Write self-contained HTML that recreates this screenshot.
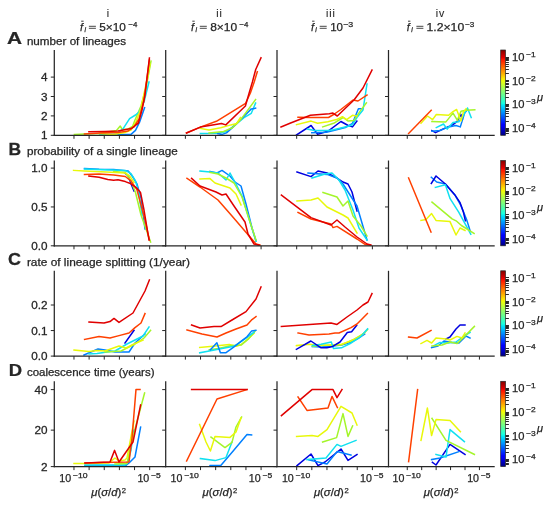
<!DOCTYPE html>
<html><head><meta charset="utf-8"><style>
html,body{margin:0;padding:0;background:#fff;}
svg{display:block;will-change:transform;}
text{font-family:"Liberation Sans", sans-serif;fill:#262626;stroke:#262626;stroke-width:0.25px;}
</style></head><body>
<svg width="550" height="509" viewBox="0 0 550 509">
<defs><linearGradient id="jet" x1="0" y1="1" x2="0" y2="0"><stop offset="0.000" stop-color="#000080"/><stop offset="0.110" stop-color="#0000ff"/><stop offset="0.125" stop-color="#0000ff"/><stop offset="0.340" stop-color="#00dbff"/><stop offset="0.350" stop-color="#00e5f7"/><stop offset="0.375" stop-color="#15ffe2"/><stop offset="0.640" stop-color="#efff08"/><stop offset="0.650" stop-color="#f7f600"/><stop offset="0.660" stop-color="#ffec00"/><stop offset="0.890" stop-color="#ff1300"/><stop offset="0.910" stop-color="#e80000"/><stop offset="1.000" stop-color="#800000"/></linearGradient></defs>
<rect width="550" height="509" fill="#fff"/>
<text x="108.25" y="16.9" font-size="10.5" text-anchor="middle" letter-spacing="0.9" style="stroke-width:0.1px">i</text>
<text x="219.45" y="16.9" font-size="10.5" text-anchor="middle" letter-spacing="0.9" style="stroke-width:0.1px">ii</text>
<text x="330.95" y="16.9" font-size="10.5" text-anchor="middle" letter-spacing="0.9" style="stroke-width:0.1px">iii</text>
<text x="440.45" y="16.9" font-size="10.5" text-anchor="middle" letter-spacing="0.9" style="stroke-width:0.1px">iv</text>
<text x="80.00" y="30.5" font-size="10.8" font-style="italic">f</text>
<line x1="81.20" y1="21.2" x2="83.60" y2="21.2" stroke="#262626" stroke-width="0.9"/>
<text x="84.40" y="32.3" font-size="6.6" font-style="italic">i</text>
<line x1="88.90" y1="26.3" x2="95.90" y2="26.3" stroke="#262626" stroke-width="0.85"/>
<line x1="88.90" y1="28.3" x2="95.90" y2="28.3" stroke="#262626" stroke-width="0.85"/>
<text x="99.20" y="30.7" font-size="10.8" textLength="26.60" lengthAdjust="spacingAndGlyphs">5×10</text>
<text x="128.30" y="26.9" font-size="7.4" textLength="9.00" lengthAdjust="spacingAndGlyphs">−4</text>
<text x="191.10" y="30.5" font-size="10.8" font-style="italic">f</text>
<line x1="192.30" y1="21.2" x2="194.70" y2="21.2" stroke="#262626" stroke-width="0.9"/>
<text x="195.50" y="32.3" font-size="6.6" font-style="italic">i</text>
<line x1="199.80" y1="26.3" x2="206.80" y2="26.3" stroke="#262626" stroke-width="0.85"/>
<line x1="199.80" y1="28.3" x2="206.80" y2="28.3" stroke="#262626" stroke-width="0.85"/>
<text x="210.20" y="30.7" font-size="10.8" textLength="27.00" lengthAdjust="spacingAndGlyphs">8×10</text>
<text x="239.30" y="26.9" font-size="7.4" textLength="9.00" lengthAdjust="spacingAndGlyphs">−4</text>
<text x="310.90" y="30.5" font-size="10.8" font-style="italic">f</text>
<line x1="312.10" y1="21.2" x2="314.50" y2="21.2" stroke="#262626" stroke-width="0.9"/>
<text x="315.30" y="32.3" font-size="6.6" font-style="italic">i</text>
<line x1="319.70" y1="26.3" x2="326.70" y2="26.3" stroke="#262626" stroke-width="0.85"/>
<line x1="319.70" y1="28.3" x2="326.70" y2="28.3" stroke="#262626" stroke-width="0.85"/>
<text x="330.20" y="30.7" font-size="10.8" textLength="12.80" lengthAdjust="spacingAndGlyphs">10</text>
<text x="343.20" y="26.9" font-size="7.4" textLength="10.10" lengthAdjust="spacingAndGlyphs">−3</text>
<text x="406.80" y="30.5" font-size="10.8" font-style="italic">f</text>
<line x1="408.00" y1="21.2" x2="410.40" y2="21.2" stroke="#262626" stroke-width="0.9"/>
<text x="411.20" y="32.3" font-size="6.6" font-style="italic">i</text>
<line x1="416.40" y1="26.3" x2="423.40" y2="26.3" stroke="#262626" stroke-width="0.85"/>
<line x1="416.40" y1="28.3" x2="423.40" y2="28.3" stroke="#262626" stroke-width="0.85"/>
<text x="426.50" y="30.7" font-size="10.8" textLength="37.70" lengthAdjust="spacingAndGlyphs">1.2×10</text>
<text x="465.00" y="26.9" font-size="7.4" textLength="9.30" lengthAdjust="spacingAndGlyphs">−3</text>
<text transform="translate(7.00 44.00) scale(1.24 1)" font-size="16.8" text-anchor="start" font-weight="bold">A</text>
<text x="26.9" y="45" font-size="10.3" text-anchor="start" textLength="99.1" lengthAdjust="spacingAndGlyphs" >number of lineages</text>
<text transform="translate(8.60 154.90) scale(1.04 1)" font-size="16.8" text-anchor="start" font-weight="bold">B</text>
<text x="26.9" y="155" font-size="10.3" text-anchor="start" textLength="150.9" lengthAdjust="spacingAndGlyphs" >probability of a single lineage</text>
<text transform="translate(7.90 264.80) scale(1.07 1)" font-size="16.8" text-anchor="start" font-weight="bold">C</text>
<text x="26.9" y="266" font-size="10.3" text-anchor="start" textLength="163.1" lengthAdjust="spacingAndGlyphs" >rate of lineage splitting (1/year)</text>
<text transform="translate(8.70 375.90) scale(1.1 1)" font-size="16.8" text-anchor="start" font-weight="bold">D</text>
<text x="26.9" y="376" font-size="10.3" text-anchor="start" textLength="127.6" lengthAdjust="spacingAndGlyphs" >coalescence time (years)</text>
<g fill="none" stroke-width="1.5" stroke-linejoin="round" stroke-linecap="square">
<polyline points="74.4,134.4 84.5,134.0 99.0,133.6 116.5,130.4 120.2,126.0 122.4,129.6 128.2,128.9 132.5,126.5 135.0,120.0 141.0,106.0 146.0,88.0 151.0,61.0" stroke="#a4f52a"/>
<polyline points="100.0,134.6 116.5,134.0 123.0,128.9 129.6,118.7 135.5,115.0 139.0,112.0 144.0,102.0 149.0,82.0" stroke="#10e0f0"/>
<polyline points="118.0,134.6 131.0,134.4 135.5,130.4 139.8,121.6 144.6,107.6" stroke="#0080ff"/>
<polyline points="99.0,133.6 113.0,134.4 125.0,132.6 131.0,130.0 136.0,122.0 141.0,108.0 147.0,80.0 150.0,64.0" stroke="#e8f80a"/>
<polyline points="84.5,134.0 100.0,133.0 118.0,132.6 128.0,131.0 134.0,127.0 139.0,119.0 144.0,100.0 149.4,60.0" stroke="#ff4000"/>
<polyline points="88.9,131.8 104.9,131.5 118.0,131.1 131.1,128.6 138.4,123.1 142.0,110.0 145.0,95.0 149.4,58.0" stroke="#e00000"/>
</g>
<line x1="54.3" y1="50.000000000000014" x2="54.3" y2="135.9" stroke="#262626" stroke-width="1.25"/>
<line x1="53.699999999999996" y1="135.3" x2="165.7" y2="135.3" stroke="#262626" stroke-width="1.25"/>
<line x1="73.98" y1="135.3" x2="73.98" y2="138.8" stroke="#262626" stroke-width="1"/>
<line x1="89.12" y1="135.3" x2="89.12" y2="138.8" stroke="#262626" stroke-width="1"/>
<line x1="104.26" y1="135.3" x2="104.26" y2="138.8" stroke="#262626" stroke-width="1"/>
<line x1="119.40" y1="135.3" x2="119.40" y2="138.8" stroke="#262626" stroke-width="1"/>
<line x1="134.54" y1="135.3" x2="134.54" y2="138.8" stroke="#262626" stroke-width="1"/>
<line x1="149.68" y1="135.3" x2="149.68" y2="138.8" stroke="#262626" stroke-width="1"/>
<line x1="50.8" y1="135.30" x2="54.3" y2="135.30" stroke="#262626" stroke-width="1"/>
<text transform="translate(47.60 139.30) scale(1.14 1)" font-size="10.3" text-anchor="end" >1</text>
<line x1="50.8" y1="115.90" x2="54.3" y2="115.90" stroke="#262626" stroke-width="1"/>
<text transform="translate(47.60 119.90) scale(1.14 1)" font-size="10.3" text-anchor="end" >2</text>
<line x1="50.8" y1="96.50" x2="54.3" y2="96.50" stroke="#262626" stroke-width="1"/>
<text transform="translate(47.60 100.50) scale(1.14 1)" font-size="10.3" text-anchor="end" >3</text>
<line x1="50.8" y1="77.10" x2="54.3" y2="77.10" stroke="#262626" stroke-width="1"/>
<text transform="translate(47.60 81.10) scale(1.14 1)" font-size="10.3" text-anchor="end" >4</text>
<g fill="none" stroke-width="1.5" stroke-linejoin="round" stroke-linecap="square">
<polyline points="200.4,133.6 217.8,133.3 226.5,131.5 235.3,124.9 244.0,117.6 251.3,113.3 255.6,103.1" stroke="#10e0f0"/>
<polyline points="217.8,133.6 222.2,134.4 226.5,132.9 233.8,126.4 244.0,116.2 251.3,108.9 255.6,108.2" stroke="#0080ff"/>
<polyline points="209.1,132.9 223.6,131.5 232.4,127.8 241.1,119.1 255.6,99.5" stroke="#a4f52a"/>
<polyline points="200.4,128.5 209.1,130.0 220.7,127.8 230.9,124.9 236.7,123.5 240.4,117.6" stroke="#e8f80a"/>
<polyline points="186.5,132.9 200.4,127.1 216.4,121.3 245.6,103.3 250.4,93.0 254.2,82.0 257.3,71.8" stroke="#ff4000"/>
<polyline points="186.5,132.9 200.4,127.1 221.5,123.5 225.8,124.9 245.4,106.0 249.0,93.5 252.4,82.0 255.7,69.5 261.0,57.8" stroke="#e00000"/>
</g>
<line x1="165.7" y1="50.000000000000014" x2="165.7" y2="135.9" stroke="#262626" stroke-width="1.25"/>
<line x1="165.1" y1="135.3" x2="277.1" y2="135.3" stroke="#262626" stroke-width="1.25"/>
<line x1="185.38" y1="135.3" x2="185.38" y2="138.8" stroke="#262626" stroke-width="1"/>
<line x1="200.52" y1="135.3" x2="200.52" y2="138.8" stroke="#262626" stroke-width="1"/>
<line x1="215.66" y1="135.3" x2="215.66" y2="138.8" stroke="#262626" stroke-width="1"/>
<line x1="230.80" y1="135.3" x2="230.80" y2="138.8" stroke="#262626" stroke-width="1"/>
<line x1="245.94" y1="135.3" x2="245.94" y2="138.8" stroke="#262626" stroke-width="1"/>
<line x1="261.08" y1="135.3" x2="261.08" y2="138.8" stroke="#262626" stroke-width="1"/>
<line x1="162.2" y1="135.30" x2="165.7" y2="135.30" stroke="#262626" stroke-width="1"/>
<line x1="162.2" y1="115.90" x2="165.7" y2="115.90" stroke="#262626" stroke-width="1"/>
<line x1="162.2" y1="96.50" x2="165.7" y2="96.50" stroke="#262626" stroke-width="1"/>
<line x1="162.2" y1="77.10" x2="165.7" y2="77.10" stroke="#262626" stroke-width="1"/>
<g fill="none" stroke-width="1.5" stroke-linejoin="round" stroke-linecap="square">
<polyline points="296.5,134.9 311.1,125.5 317.6,134.2 327.8,131.3 340.9,121.5 348.2,125.5 352.5,126.9 356.9,121.1" stroke="#0000e0"/>
<polyline points="311.8,132.7 326.4,132.3 333.6,130.5 345.3,127.6 352.5,123.3 358.4,108.7 362.7,108.7" stroke="#0080ff"/>
<polyline points="307.5,129.1 314.7,130.5 327.8,130.5 333.6,129.8 348.2,126.2 352.5,124.7 356.9,117.5 363.0,110.0 367.0,84.0" stroke="#10e0f0"/>
<polyline points="322.7,126.9 333.6,123.3 343.1,117.5 348.2,121.1 354.0,120.4 359.8,111.6 366.4,102.9" stroke="#a4f52a"/>
<polyline points="296.5,124.7 311.1,121.1 317.6,123.3 327.8,121.8 336.5,119.6 342.4,116.7 346.7,119.6 352.5,115.3 356.9,116.0" stroke="#e8f80a"/>
<polyline points="298.0,117.2 310.4,117.5 328.5,117.5 333.6,114.5 340.9,109.5 353.0,100.0 358.0,101.0 367.0,95.0" stroke="#ff4000"/>
<polyline points="281.0,127.0 290.0,123.3 310.4,115.3 329.3,113.8 332.9,113.1 337.3,116.0 354.0,100.0 363.0,88.0 372.0,70.0" stroke="#e00000"/>
</g>
<line x1="277.0" y1="50.000000000000014" x2="277.0" y2="135.9" stroke="#262626" stroke-width="1.25"/>
<line x1="276.4" y1="135.3" x2="388.4" y2="135.3" stroke="#262626" stroke-width="1.25"/>
<line x1="296.68" y1="135.3" x2="296.68" y2="138.8" stroke="#262626" stroke-width="1"/>
<line x1="311.82" y1="135.3" x2="311.82" y2="138.8" stroke="#262626" stroke-width="1"/>
<line x1="326.96" y1="135.3" x2="326.96" y2="138.8" stroke="#262626" stroke-width="1"/>
<line x1="342.10" y1="135.3" x2="342.10" y2="138.8" stroke="#262626" stroke-width="1"/>
<line x1="357.24" y1="135.3" x2="357.24" y2="138.8" stroke="#262626" stroke-width="1"/>
<line x1="372.38" y1="135.3" x2="372.38" y2="138.8" stroke="#262626" stroke-width="1"/>
<line x1="273.5" y1="135.30" x2="277.0" y2="135.30" stroke="#262626" stroke-width="1"/>
<line x1="273.5" y1="115.90" x2="277.0" y2="115.90" stroke="#262626" stroke-width="1"/>
<line x1="273.5" y1="96.50" x2="277.0" y2="96.50" stroke="#262626" stroke-width="1"/>
<line x1="273.5" y1="77.10" x2="277.0" y2="77.10" stroke="#262626" stroke-width="1"/>
<g fill="none" stroke-width="1.5" stroke-linejoin="round" stroke-linecap="square">
<polyline points="431.9,130.6 435.5,132.7 442.8,129.1 453.0,124.7 457.4,121.1 461.0,114.5 462.5,118.9" stroke="#0000e0"/>
<polyline points="431.9,131.3 439.9,130.5 448.6,126.9 455.9,125.5 460.3,126.9 464.6,113.1 467.5,109.5" stroke="#0080ff"/>
<polyline points="436.3,127.6 443.5,124.0 447.2,129.1 453.0,122.5 458.8,121.8 463.2,116.0 467.5,108.0 471.2,117.5" stroke="#10e0f0"/>
<polyline points="431.9,121.5 445.7,122.1 453.0,113.1 457.4,120.4 461.0,111.3 466.1,110.2 474.8,109.9" stroke="#a4f52a"/>
<polyline points="421.0,123.3 427.5,116.0 432.6,119.6 436.3,114.5 448.6,115.3 453.0,111.6 456.6,109.5 461.0,121.1 463.2,112.4 466.1,108.7" stroke="#e8f80a"/>
<polyline points="408.6,133.5 431.2,110.2" stroke="#ff4000"/>
</g>
<line x1="388.5" y1="50.000000000000014" x2="388.5" y2="135.9" stroke="#262626" stroke-width="1.25"/>
<line x1="387.9" y1="135.3" x2="494.7" y2="135.3" stroke="#262626" stroke-width="1.25"/>
<line x1="407.26" y1="135.3" x2="407.26" y2="138.8" stroke="#262626" stroke-width="1"/>
<line x1="421.70" y1="135.3" x2="421.70" y2="138.8" stroke="#262626" stroke-width="1"/>
<line x1="436.13" y1="135.3" x2="436.13" y2="138.8" stroke="#262626" stroke-width="1"/>
<line x1="450.56" y1="135.3" x2="450.56" y2="138.8" stroke="#262626" stroke-width="1"/>
<line x1="465.00" y1="135.3" x2="465.00" y2="138.8" stroke="#262626" stroke-width="1"/>
<line x1="479.43" y1="135.3" x2="479.43" y2="138.8" stroke="#262626" stroke-width="1"/>
<line x1="385.0" y1="135.30" x2="388.5" y2="135.30" stroke="#262626" stroke-width="1"/>
<line x1="385.0" y1="115.90" x2="388.5" y2="115.90" stroke="#262626" stroke-width="1"/>
<line x1="385.0" y1="96.50" x2="388.5" y2="96.50" stroke="#262626" stroke-width="1"/>
<line x1="385.0" y1="77.10" x2="388.5" y2="77.10" stroke="#262626" stroke-width="1"/>
<rect x="500.7" y="50.000000000000014" width="4.8" height="85.3" fill="url(#jet)" stroke="#262626" stroke-width="0.7"/>
<line x1="505.5" y1="133.50" x2="508.9" y2="133.50" stroke="#262626" stroke-width="1.0"/>
<line x1="505.5" y1="131.50" x2="508.9" y2="131.50" stroke="#262626" stroke-width="1.0"/>
<line x1="505.5" y1="130.50" x2="508.9" y2="130.50" stroke="#262626" stroke-width="1.0"/>
<line x1="505.5" y1="129.50" x2="508.9" y2="129.50" stroke="#262626" stroke-width="1.0"/>
<line x1="505.5" y1="128.50" x2="509.0" y2="128.50" stroke="#262626" stroke-width="1.0"/>
<text x="512.10" y="132.07" font-size="10.5" textLength="12.43" lengthAdjust="spacingAndGlyphs">10</text>
<text x="526.10" y="128.17" font-size="7.3" textLength="9.60" lengthAdjust="spacingAndGlyphs">−4</text>
<line x1="505.5" y1="121.50" x2="508.9" y2="121.50" stroke="#262626" stroke-width="1.0"/>
<line x1="505.5" y1="116.50" x2="508.9" y2="116.50" stroke="#262626" stroke-width="1.0"/>
<line x1="505.5" y1="113.50" x2="508.9" y2="113.50" stroke="#262626" stroke-width="1.0"/>
<line x1="505.5" y1="111.50" x2="508.9" y2="111.50" stroke="#262626" stroke-width="1.0"/>
<line x1="505.5" y1="109.50" x2="508.9" y2="109.50" stroke="#262626" stroke-width="1.0"/>
<line x1="505.5" y1="108.50" x2="508.9" y2="108.50" stroke="#262626" stroke-width="1.0"/>
<line x1="505.5" y1="106.50" x2="508.9" y2="106.50" stroke="#262626" stroke-width="1.0"/>
<line x1="505.5" y1="105.50" x2="508.9" y2="105.50" stroke="#262626" stroke-width="1.0"/>
<line x1="505.5" y1="104.50" x2="509.0" y2="104.50" stroke="#262626" stroke-width="1.0"/>
<text x="512.10" y="108.39" font-size="10.5" textLength="12.43" lengthAdjust="spacingAndGlyphs">10</text>
<text x="526.10" y="104.49" font-size="7.3" textLength="9.60" lengthAdjust="spacingAndGlyphs">−3</text>
<line x1="505.5" y1="97.50" x2="508.9" y2="97.50" stroke="#262626" stroke-width="1.0"/>
<line x1="505.5" y1="93.50" x2="508.9" y2="93.50" stroke="#262626" stroke-width="1.0"/>
<line x1="505.5" y1="90.50" x2="508.9" y2="90.50" stroke="#262626" stroke-width="1.0"/>
<line x1="505.5" y1="87.50" x2="508.9" y2="87.50" stroke="#262626" stroke-width="1.0"/>
<line x1="505.5" y1="86.50" x2="508.9" y2="86.50" stroke="#262626" stroke-width="1.0"/>
<line x1="505.5" y1="84.50" x2="508.9" y2="84.50" stroke="#262626" stroke-width="1.0"/>
<line x1="505.5" y1="83.50" x2="508.9" y2="83.50" stroke="#262626" stroke-width="1.0"/>
<line x1="505.5" y1="81.50" x2="508.9" y2="81.50" stroke="#262626" stroke-width="1.0"/>
<line x1="505.5" y1="80.50" x2="509.0" y2="80.50" stroke="#262626" stroke-width="1.0"/>
<text x="512.10" y="84.71" font-size="10.5" textLength="12.43" lengthAdjust="spacingAndGlyphs">10</text>
<text x="526.10" y="80.81" font-size="7.3" textLength="9.60" lengthAdjust="spacingAndGlyphs">−2</text>
<line x1="505.5" y1="73.50" x2="508.9" y2="73.50" stroke="#262626" stroke-width="1.0"/>
<line x1="505.5" y1="69.50" x2="508.9" y2="69.50" stroke="#262626" stroke-width="1.0"/>
<line x1="505.5" y1="66.50" x2="508.9" y2="66.50" stroke="#262626" stroke-width="1.0"/>
<line x1="505.5" y1="64.50" x2="508.9" y2="64.50" stroke="#262626" stroke-width="1.0"/>
<line x1="505.5" y1="62.50" x2="508.9" y2="62.50" stroke="#262626" stroke-width="1.0"/>
<line x1="505.5" y1="60.50" x2="508.9" y2="60.50" stroke="#262626" stroke-width="1.0"/>
<line x1="505.5" y1="59.50" x2="508.9" y2="59.50" stroke="#262626" stroke-width="1.0"/>
<line x1="505.5" y1="58.50" x2="508.9" y2="58.50" stroke="#262626" stroke-width="1.0"/>
<line x1="505.5" y1="57.50" x2="509.0" y2="57.50" stroke="#262626" stroke-width="1.0"/>
<text x="512.10" y="61.03" font-size="10.5" textLength="12.43" lengthAdjust="spacingAndGlyphs">10</text>
<text x="526.10" y="57.13" font-size="7.3" textLength="9.50" lengthAdjust="spacingAndGlyphs">−1</text>
<text x="537" y="100.80" font-size="11" font-style="italic">μ</text>
<g fill="none" stroke-width="1.5" stroke-linejoin="round" stroke-linecap="square">
<polyline points="125.3,173.3 128.2,175.8 131.0,183.8 134.0,191.0" stroke="#0000e0"/>
<polyline points="84.5,168.5 99.1,169.3 113.6,169.6 128.2,171.0 132.5,176.5 136.9,183.8 141.0,198.0 145.0,229.0" stroke="#0080ff"/>
<polyline points="84.5,169.0 125.3,170.4 131.0,173.6 135.5,180.9 138.4,191.0 142.0,215.0" stroke="#10e0f0"/>
<polyline points="113.6,171.5 125.3,172.5 131.0,180.9 135.5,192.5 141.0,215.0 150.6,242.0" stroke="#a4f52a"/>
<polyline points="73.6,170.4 84.5,171.0 106.4,171.9 125.3,172.9 129.6,175.8 134.0,182.4" stroke="#e8f80a"/>
<polyline points="84.5,174.4 99.1,174.0 113.6,175.1 125.3,176.5 131.0,180.9 136.9,189.6 145.0,220.0 149.4,240.0" stroke="#ff4000"/>
<polyline points="88.9,176.1 99.1,177.3 107.8,179.5 113.6,180.2 118.0,179.7 125.3,181.6 131.0,183.8 136.9,188.2 140.5,192.5 144.0,210.0 149.0,240.0" stroke="#e00000"/>
</g>
<line x1="54.3" y1="160.5" x2="54.3" y2="246.4" stroke="#262626" stroke-width="1.25"/>
<line x1="53.699999999999996" y1="245.8" x2="165.7" y2="245.8" stroke="#262626" stroke-width="1.25"/>
<line x1="73.98" y1="245.8" x2="73.98" y2="249.3" stroke="#262626" stroke-width="1"/>
<line x1="89.12" y1="245.8" x2="89.12" y2="249.3" stroke="#262626" stroke-width="1"/>
<line x1="104.26" y1="245.8" x2="104.26" y2="249.3" stroke="#262626" stroke-width="1"/>
<line x1="119.40" y1="245.8" x2="119.40" y2="249.3" stroke="#262626" stroke-width="1"/>
<line x1="134.54" y1="245.8" x2="134.54" y2="249.3" stroke="#262626" stroke-width="1"/>
<line x1="149.68" y1="245.8" x2="149.68" y2="249.3" stroke="#262626" stroke-width="1"/>
<line x1="50.8" y1="245.80" x2="54.3" y2="245.80" stroke="#262626" stroke-width="1"/>
<text transform="translate(47.60 249.80) scale(1.14 1)" font-size="10.3" text-anchor="end" >0.0</text>
<line x1="50.8" y1="206.95" x2="54.3" y2="206.95" stroke="#262626" stroke-width="1"/>
<text transform="translate(47.60 210.95) scale(1.14 1)" font-size="10.3" text-anchor="end" >0.5</text>
<line x1="50.8" y1="168.10" x2="54.3" y2="168.10" stroke="#262626" stroke-width="1"/>
<text transform="translate(47.60 172.10) scale(1.14 1)" font-size="10.3" text-anchor="end" >1.0</text>
<g fill="none" stroke-width="1.5" stroke-linejoin="round" stroke-linecap="square">
<polyline points="210.0,171.4 217.0,173.0 222.0,170.4 230.0,176.0 235.0,182.0 241.0,186.0 246.0,204.0 252.0,228.0 256.0,241.0" stroke="#0080ff"/>
<polyline points="200.0,171.0 210.0,172.0 218.0,173.0 226.0,180.0 230.0,173.0 236.0,184.0 242.0,196.0 250.0,222.0 256.0,241.0" stroke="#10e0f0"/>
<polyline points="210.0,172.4 218.0,174.0 226.0,178.0 234.0,183.0 242.0,197.0 250.0,222.0 256.0,240.0" stroke="#a4f52a"/>
<polyline points="200.0,179.0 210.0,178.6 215.0,183.0 230.0,188.0 236.0,194.0 241.0,205.0" stroke="#e8f80a"/>
<polyline points="187.0,178.4 200.0,187.0 218.0,200.0 232.0,216.0 250.0,237.0 256.0,244.0 260.0,245.0" stroke="#ff4000"/>
<polyline points="191.6,178.4 200.0,186.0 216.0,192.0 222.0,195.0 226.0,194.0 234.0,206.0 245.0,222.0 248.0,234.0 254.0,244.0 259.0,245.0" stroke="#e00000"/>
</g>
<line x1="165.7" y1="160.5" x2="165.7" y2="246.4" stroke="#262626" stroke-width="1.25"/>
<line x1="165.1" y1="245.8" x2="277.1" y2="245.8" stroke="#262626" stroke-width="1.25"/>
<line x1="185.38" y1="245.8" x2="185.38" y2="249.3" stroke="#262626" stroke-width="1"/>
<line x1="200.52" y1="245.8" x2="200.52" y2="249.3" stroke="#262626" stroke-width="1"/>
<line x1="215.66" y1="245.8" x2="215.66" y2="249.3" stroke="#262626" stroke-width="1"/>
<line x1="230.80" y1="245.8" x2="230.80" y2="249.3" stroke="#262626" stroke-width="1"/>
<line x1="245.94" y1="245.8" x2="245.94" y2="249.3" stroke="#262626" stroke-width="1"/>
<line x1="261.08" y1="245.8" x2="261.08" y2="249.3" stroke="#262626" stroke-width="1"/>
<line x1="162.2" y1="245.80" x2="165.7" y2="245.80" stroke="#262626" stroke-width="1"/>
<line x1="162.2" y1="206.95" x2="165.7" y2="206.95" stroke="#262626" stroke-width="1"/>
<line x1="162.2" y1="168.10" x2="165.7" y2="168.10" stroke="#262626" stroke-width="1"/>
<g fill="none" stroke-width="1.5" stroke-linejoin="round" stroke-linecap="square">
<polyline points="297.0,172.0 311.0,176.6 318.0,171.0 327.0,173.0 337.0,178.0 343.0,182.0 348.0,184.0 352.0,192.0 357.0,211.0" stroke="#0000e0"/>
<polyline points="308.0,173.0 327.0,174.4 337.0,178.0 343.0,184.0 357.0,206.0 367.0,240.0" stroke="#0080ff"/>
<polyline points="312.0,178.0 325.0,174.0 332.0,173.0 339.0,180.0 345.0,190.0 353.0,210.0 359.0,228.0 367.0,240.0" stroke="#10e0f0"/>
<polyline points="323.0,192.4 337.0,197.0 343.0,206.0 348.0,201.0 353.0,216.0 361.0,226.0 367.0,236.0" stroke="#a4f52a"/>
<polyline points="297.0,201.0 311.0,200.0 318.0,198.0 327.0,207.0 343.0,215.0 348.0,218.0 357.0,233.0" stroke="#e8f80a"/>
<polyline points="298.0,212.4 311.0,219.0 331.0,224.0 333.0,227.6 337.0,226.4 357.0,239.0 365.0,244.4 370.0,245.0" stroke="#ff4000"/>
<polyline points="281.4,195.0 311.0,217.6 331.0,225.0 337.0,220.0 345.0,227.0 357.0,237.0 367.0,244.0 371.0,245.0" stroke="#e00000"/>
</g>
<line x1="277.0" y1="160.5" x2="277.0" y2="246.4" stroke="#262626" stroke-width="1.25"/>
<line x1="276.4" y1="245.8" x2="388.4" y2="245.8" stroke="#262626" stroke-width="1.25"/>
<line x1="296.68" y1="245.8" x2="296.68" y2="249.3" stroke="#262626" stroke-width="1"/>
<line x1="311.82" y1="245.8" x2="311.82" y2="249.3" stroke="#262626" stroke-width="1"/>
<line x1="326.96" y1="245.8" x2="326.96" y2="249.3" stroke="#262626" stroke-width="1"/>
<line x1="342.10" y1="245.8" x2="342.10" y2="249.3" stroke="#262626" stroke-width="1"/>
<line x1="357.24" y1="245.8" x2="357.24" y2="249.3" stroke="#262626" stroke-width="1"/>
<line x1="372.38" y1="245.8" x2="372.38" y2="249.3" stroke="#262626" stroke-width="1"/>
<line x1="273.5" y1="245.80" x2="277.0" y2="245.80" stroke="#262626" stroke-width="1"/>
<line x1="273.5" y1="206.95" x2="277.0" y2="206.95" stroke="#262626" stroke-width="1"/>
<line x1="273.5" y1="168.10" x2="277.0" y2="168.10" stroke="#262626" stroke-width="1"/>
<g fill="none" stroke-width="1.5" stroke-linejoin="round" stroke-linecap="square">
<polyline points="431.3,177.3 436.7,182.0 445.4,184.0 454.7,194.7 460.8,205.4 466.8,220.1 470.1,230.8" stroke="#0080ff"/>
<polyline points="431.3,183.4 436.0,176.0 445.4,184.0 454.7,194.7 460.1,202.7 463.4,212.1 465.4,220.8" stroke="#0000e0"/>
<polyline points="435.4,187.4 445.4,184.7 450.1,198.7 458.7,212.1 470.8,234.2" stroke="#10e0f0"/>
<polyline points="432.0,202.1 452.1,218.8 456.1,220.8 461.4,225.5 474.1,233.5" stroke="#a4f52a"/>
<polyline points="421.0,220.4 426.0,219.6 431.6,213.6 436.0,220.4 450.0,221.6 456.0,235.0 460.0,228.0 465.0,230.4" stroke="#e8f80a"/>
<polyline points="408.6,178.0 431.0,232.0" stroke="#ff4000"/>
</g>
<line x1="388.5" y1="160.5" x2="388.5" y2="246.4" stroke="#262626" stroke-width="1.25"/>
<line x1="387.9" y1="245.8" x2="494.7" y2="245.8" stroke="#262626" stroke-width="1.25"/>
<line x1="407.26" y1="245.8" x2="407.26" y2="249.3" stroke="#262626" stroke-width="1"/>
<line x1="421.70" y1="245.8" x2="421.70" y2="249.3" stroke="#262626" stroke-width="1"/>
<line x1="436.13" y1="245.8" x2="436.13" y2="249.3" stroke="#262626" stroke-width="1"/>
<line x1="450.56" y1="245.8" x2="450.56" y2="249.3" stroke="#262626" stroke-width="1"/>
<line x1="465.00" y1="245.8" x2="465.00" y2="249.3" stroke="#262626" stroke-width="1"/>
<line x1="479.43" y1="245.8" x2="479.43" y2="249.3" stroke="#262626" stroke-width="1"/>
<line x1="385.0" y1="245.80" x2="388.5" y2="245.80" stroke="#262626" stroke-width="1"/>
<line x1="385.0" y1="206.95" x2="388.5" y2="206.95" stroke="#262626" stroke-width="1"/>
<line x1="385.0" y1="168.10" x2="388.5" y2="168.10" stroke="#262626" stroke-width="1"/>
<rect x="500.7" y="160.5" width="4.8" height="85.3" fill="url(#jet)" stroke="#262626" stroke-width="0.7"/>
<line x1="505.5" y1="243.50" x2="508.9" y2="243.50" stroke="#262626" stroke-width="1.0"/>
<line x1="505.5" y1="242.50" x2="508.9" y2="242.50" stroke="#262626" stroke-width="1.0"/>
<line x1="505.5" y1="240.50" x2="508.9" y2="240.50" stroke="#262626" stroke-width="1.0"/>
<line x1="505.5" y1="239.50" x2="508.9" y2="239.50" stroke="#262626" stroke-width="1.0"/>
<line x1="505.5" y1="238.50" x2="509.0" y2="238.50" stroke="#262626" stroke-width="1.0"/>
<text x="512.10" y="242.57" font-size="10.5" textLength="12.43" lengthAdjust="spacingAndGlyphs">10</text>
<text x="526.10" y="238.67" font-size="7.3" textLength="9.60" lengthAdjust="spacingAndGlyphs">−4</text>
<line x1="505.5" y1="231.50" x2="508.9" y2="231.50" stroke="#262626" stroke-width="1.0"/>
<line x1="505.5" y1="227.50" x2="508.9" y2="227.50" stroke="#262626" stroke-width="1.0"/>
<line x1="505.5" y1="224.50" x2="508.9" y2="224.50" stroke="#262626" stroke-width="1.0"/>
<line x1="505.5" y1="222.50" x2="508.9" y2="222.50" stroke="#262626" stroke-width="1.0"/>
<line x1="505.5" y1="220.50" x2="508.9" y2="220.50" stroke="#262626" stroke-width="1.0"/>
<line x1="505.5" y1="218.50" x2="508.9" y2="218.50" stroke="#262626" stroke-width="1.0"/>
<line x1="505.5" y1="217.50" x2="508.9" y2="217.50" stroke="#262626" stroke-width="1.0"/>
<line x1="505.5" y1="216.50" x2="508.9" y2="216.50" stroke="#262626" stroke-width="1.0"/>
<line x1="505.5" y1="214.50" x2="509.0" y2="214.50" stroke="#262626" stroke-width="1.0"/>
<text x="512.10" y="218.89" font-size="10.5" textLength="12.43" lengthAdjust="spacingAndGlyphs">10</text>
<text x="526.10" y="214.99" font-size="7.3" textLength="9.60" lengthAdjust="spacingAndGlyphs">−3</text>
<line x1="505.5" y1="207.50" x2="508.9" y2="207.50" stroke="#262626" stroke-width="1.0"/>
<line x1="505.5" y1="203.50" x2="508.9" y2="203.50" stroke="#262626" stroke-width="1.0"/>
<line x1="505.5" y1="200.50" x2="508.9" y2="200.50" stroke="#262626" stroke-width="1.0"/>
<line x1="505.5" y1="198.50" x2="508.9" y2="198.50" stroke="#262626" stroke-width="1.0"/>
<line x1="505.5" y1="196.50" x2="508.9" y2="196.50" stroke="#262626" stroke-width="1.0"/>
<line x1="505.5" y1="194.50" x2="508.9" y2="194.50" stroke="#262626" stroke-width="1.0"/>
<line x1="505.5" y1="193.50" x2="508.9" y2="193.50" stroke="#262626" stroke-width="1.0"/>
<line x1="505.5" y1="192.50" x2="508.9" y2="192.50" stroke="#262626" stroke-width="1.0"/>
<line x1="505.5" y1="191.50" x2="509.0" y2="191.50" stroke="#262626" stroke-width="1.0"/>
<text x="512.10" y="195.21" font-size="10.5" textLength="12.43" lengthAdjust="spacingAndGlyphs">10</text>
<text x="526.10" y="191.31" font-size="7.3" textLength="9.60" lengthAdjust="spacingAndGlyphs">−2</text>
<line x1="505.5" y1="184.50" x2="508.9" y2="184.50" stroke="#262626" stroke-width="1.0"/>
<line x1="505.5" y1="180.50" x2="508.9" y2="180.50" stroke="#262626" stroke-width="1.0"/>
<line x1="505.5" y1="177.50" x2="508.9" y2="177.50" stroke="#262626" stroke-width="1.0"/>
<line x1="505.5" y1="174.50" x2="508.9" y2="174.50" stroke="#262626" stroke-width="1.0"/>
<line x1="505.5" y1="172.50" x2="508.9" y2="172.50" stroke="#262626" stroke-width="1.0"/>
<line x1="505.5" y1="171.50" x2="508.9" y2="171.50" stroke="#262626" stroke-width="1.0"/>
<line x1="505.5" y1="169.50" x2="508.9" y2="169.50" stroke="#262626" stroke-width="1.0"/>
<line x1="505.5" y1="168.50" x2="508.9" y2="168.50" stroke="#262626" stroke-width="1.0"/>
<line x1="505.5" y1="167.50" x2="509.0" y2="167.50" stroke="#262626" stroke-width="1.0"/>
<text x="512.10" y="171.53" font-size="10.5" textLength="12.43" lengthAdjust="spacingAndGlyphs">10</text>
<text x="526.10" y="167.63" font-size="7.3" textLength="9.50" lengthAdjust="spacingAndGlyphs">−1</text>
<text x="537" y="211.30" font-size="11" font-style="italic">μ</text>
<g fill="none" stroke-width="1.5" stroke-linejoin="round" stroke-linecap="square">
<polyline points="125.0,343.0 134.0,330.4" stroke="#0000e0"/>
<polyline points="84.0,355.0 98.0,349.0 105.0,350.0 115.0,352.0 129.0,352.0 135.0,343.0 145.0,334.0" stroke="#0080ff"/>
<polyline points="89.0,354.0 97.0,353.6 107.0,352.0 115.0,351.0 127.0,344.0 135.0,340.0 143.0,336.0 149.0,327.0" stroke="#10e0f0"/>
<polyline points="105.0,352.0 121.0,351.0 127.0,348.0 135.0,344.0 144.0,338.0 150.6,330.4" stroke="#a4f52a"/>
<polyline points="74.0,350.0 89.0,351.6 97.0,350.4 105.0,351.0 119.0,346.0 126.0,348.0 134.0,344.0 143.0,340.0" stroke="#e8f80a"/>
<polyline points="84.6,339.4 99.0,336.4 110.0,338.0 119.0,335.6 129.0,333.0 135.0,327.6 141.0,323.0 145.0,313.6" stroke="#ff4000"/>
<polyline points="89.0,322.0 104.0,323.0 110.0,321.6 114.0,318.4 119.0,322.4 133.0,313.0 139.0,302.0 145.0,291.0 149.4,280.0" stroke="#e00000"/>
</g>
<line x1="54.3" y1="270.8" x2="54.3" y2="356.70000000000005" stroke="#262626" stroke-width="1.25"/>
<line x1="53.699999999999996" y1="356.1" x2="165.7" y2="356.1" stroke="#262626" stroke-width="1.25"/>
<line x1="73.98" y1="356.1" x2="73.98" y2="359.6" stroke="#262626" stroke-width="1"/>
<line x1="89.12" y1="356.1" x2="89.12" y2="359.6" stroke="#262626" stroke-width="1"/>
<line x1="104.26" y1="356.1" x2="104.26" y2="359.6" stroke="#262626" stroke-width="1"/>
<line x1="119.40" y1="356.1" x2="119.40" y2="359.6" stroke="#262626" stroke-width="1"/>
<line x1="134.54" y1="356.1" x2="134.54" y2="359.6" stroke="#262626" stroke-width="1"/>
<line x1="149.68" y1="356.1" x2="149.68" y2="359.6" stroke="#262626" stroke-width="1"/>
<line x1="50.8" y1="356.10" x2="54.3" y2="356.10" stroke="#262626" stroke-width="1"/>
<text transform="translate(47.60 360.10) scale(1.14 1)" font-size="10.3" text-anchor="end" >0.0</text>
<line x1="50.8" y1="330.55" x2="54.3" y2="330.55" stroke="#262626" stroke-width="1"/>
<text transform="translate(47.60 334.55) scale(1.14 1)" font-size="10.3" text-anchor="end" >0.1</text>
<line x1="50.8" y1="305.00" x2="54.3" y2="305.00" stroke="#262626" stroke-width="1"/>
<text transform="translate(47.60 309.00) scale(1.14 1)" font-size="10.3" text-anchor="end" >0.2</text>
<g fill="none" stroke-width="1.5" stroke-linejoin="round" stroke-linecap="square">
<polyline points="199.7,347.5 212.7,346.3 229.3,344.5 236.4,346.3 241.1,344.5 247.0,339.8 254.1,333.3" stroke="#e8f80a"/>
<polyline points="209.2,349.8 218.6,348.6 230.5,345.7 241.1,345.1 248.2,339.2 255.3,330.9" stroke="#a4f52a"/>
<polyline points="199.7,352.8 209.2,351.0 224.6,348.0 234.0,346.3 244.6,339.2 254.1,332.1" stroke="#10e0f0"/>
<polyline points="210.4,349.8 216.9,342.7 220.4,352.8 225.7,352.8 234.0,346.9 242.3,340.4 247.0,336.8 251.7,330.9 255.9,330.3" stroke="#0080ff"/>
<polyline points="187.0,330.0 202.0,334.0 217.0,337.0 226.0,333.0 236.0,329.0 247.0,325.0 252.0,319.6 256.0,316.6" stroke="#ff4000"/>
<polyline points="191.6,325.0 200.0,328.0 214.0,326.4 221.0,326.6 232.0,320.0 246.0,311.6 256.0,299.0 261.0,287.0" stroke="#e00000"/>
</g>
<line x1="165.7" y1="270.8" x2="165.7" y2="356.70000000000005" stroke="#262626" stroke-width="1.25"/>
<line x1="165.1" y1="356.1" x2="277.1" y2="356.1" stroke="#262626" stroke-width="1.25"/>
<line x1="185.38" y1="356.1" x2="185.38" y2="359.6" stroke="#262626" stroke-width="1"/>
<line x1="200.52" y1="356.1" x2="200.52" y2="359.6" stroke="#262626" stroke-width="1"/>
<line x1="215.66" y1="356.1" x2="215.66" y2="359.6" stroke="#262626" stroke-width="1"/>
<line x1="230.80" y1="356.1" x2="230.80" y2="359.6" stroke="#262626" stroke-width="1"/>
<line x1="245.94" y1="356.1" x2="245.94" y2="359.6" stroke="#262626" stroke-width="1"/>
<line x1="261.08" y1="356.1" x2="261.08" y2="359.6" stroke="#262626" stroke-width="1"/>
<line x1="162.2" y1="356.10" x2="165.7" y2="356.10" stroke="#262626" stroke-width="1"/>
<line x1="162.2" y1="330.55" x2="165.7" y2="330.55" stroke="#262626" stroke-width="1"/>
<line x1="162.2" y1="305.00" x2="165.7" y2="305.00" stroke="#262626" stroke-width="1"/>
<g fill="none" stroke-width="1.5" stroke-linejoin="round" stroke-linecap="square">
<polyline points="312.4,346.5 321.1,347.0 332.7,346.0 341.5,345.0 350.2,342.5 358.9,338.0 364.7,334.0" stroke="#0080ff"/>
<polyline points="312.4,346.4 321.1,345.3 332.7,344.9 341.5,344.9 353.0,339.8 363.2,334.0 367.6,329.6" stroke="#a4f52a"/>
<polyline points="296.4,345.6 309.5,344.2 321.1,345.6 332.7,344.9 341.5,344.2 350.2,341.3 358.9,336.9 364.7,332.5" stroke="#e8f80a"/>
<polyline points="312.4,345.6 321.1,344.2 331.3,342.0 333.5,348.5 341.5,347.8 350.2,343.5 360.4,336.9 367.6,328.9" stroke="#10e0f0"/>
<polyline points="296.4,349.3 310.9,341.0 321.1,347.8 326.9,347.8 332.7,346.4 340.0,342.0 347.3,332.5 351.6,331.8 356.7,325.3" stroke="#0000e0"/>
<polyline points="298.0,333.0 309.0,335.0 329.0,334.0 335.0,333.0 339.0,333.0 351.0,327.6 357.0,324.0 362.0,319.0 367.4,313.6" stroke="#ff4000"/>
<polyline points="281.4,326.4 331.0,323.0 337.0,324.4 347.0,317.0 357.0,310.0 363.0,305.0 368.0,302.0 372.0,293.6" stroke="#e00000"/>
</g>
<line x1="277.0" y1="270.8" x2="277.0" y2="356.70000000000005" stroke="#262626" stroke-width="1.25"/>
<line x1="276.4" y1="356.1" x2="388.4" y2="356.1" stroke="#262626" stroke-width="1.25"/>
<line x1="296.68" y1="356.1" x2="296.68" y2="359.6" stroke="#262626" stroke-width="1"/>
<line x1="311.82" y1="356.1" x2="311.82" y2="359.6" stroke="#262626" stroke-width="1"/>
<line x1="326.96" y1="356.1" x2="326.96" y2="359.6" stroke="#262626" stroke-width="1"/>
<line x1="342.10" y1="356.1" x2="342.10" y2="359.6" stroke="#262626" stroke-width="1"/>
<line x1="357.24" y1="356.1" x2="357.24" y2="359.6" stroke="#262626" stroke-width="1"/>
<line x1="372.38" y1="356.1" x2="372.38" y2="359.6" stroke="#262626" stroke-width="1"/>
<line x1="273.5" y1="356.10" x2="277.0" y2="356.10" stroke="#262626" stroke-width="1"/>
<line x1="273.5" y1="330.55" x2="277.0" y2="330.55" stroke="#262626" stroke-width="1"/>
<line x1="273.5" y1="305.00" x2="277.0" y2="305.00" stroke="#262626" stroke-width="1"/>
<g fill="none" stroke-width="1.5" stroke-linejoin="round" stroke-linecap="square">
<polyline points="446.0,339.0 450.0,337.0 456.0,329.0 460.0,325.0 465.0,325.0" stroke="#0000e0"/>
<polyline points="431.6,347.6 438.0,346.0 444.0,341.0 452.0,342.4 459.0,343.0 466.0,336.0 470.0,338.0" stroke="#0080ff"/>
<polyline points="434.0,345.6 440.0,342.4 448.0,343.0 456.0,342.0 464.0,336.0 470.0,332.4" stroke="#10e0f0"/>
<polyline points="432.0,346.0 442.0,345.0 450.0,342.0 457.0,343.6 464.0,337.0 474.4,326.4" stroke="#a4f52a"/>
<polyline points="421.0,343.6 427.0,340.4 431.6,343.0 436.0,338.0 446.0,339.0 450.0,340.0 457.0,336.4 462.0,338.0 465.0,333.0" stroke="#e8f80a"/>
<polyline points="408.6,337.0 417.0,338.0 431.0,330.4" stroke="#ff4000"/>
</g>
<line x1="388.5" y1="270.8" x2="388.5" y2="356.70000000000005" stroke="#262626" stroke-width="1.25"/>
<line x1="387.9" y1="356.1" x2="494.7" y2="356.1" stroke="#262626" stroke-width="1.25"/>
<line x1="407.26" y1="356.1" x2="407.26" y2="359.6" stroke="#262626" stroke-width="1"/>
<line x1="421.70" y1="356.1" x2="421.70" y2="359.6" stroke="#262626" stroke-width="1"/>
<line x1="436.13" y1="356.1" x2="436.13" y2="359.6" stroke="#262626" stroke-width="1"/>
<line x1="450.56" y1="356.1" x2="450.56" y2="359.6" stroke="#262626" stroke-width="1"/>
<line x1="465.00" y1="356.1" x2="465.00" y2="359.6" stroke="#262626" stroke-width="1"/>
<line x1="479.43" y1="356.1" x2="479.43" y2="359.6" stroke="#262626" stroke-width="1"/>
<line x1="385.0" y1="356.10" x2="388.5" y2="356.10" stroke="#262626" stroke-width="1"/>
<line x1="385.0" y1="330.55" x2="388.5" y2="330.55" stroke="#262626" stroke-width="1"/>
<line x1="385.0" y1="305.00" x2="388.5" y2="305.00" stroke="#262626" stroke-width="1"/>
<rect x="500.7" y="270.8" width="4.8" height="85.3" fill="url(#jet)" stroke="#262626" stroke-width="0.7"/>
<line x1="505.5" y1="354.50" x2="508.9" y2="354.50" stroke="#262626" stroke-width="1.0"/>
<line x1="505.5" y1="352.50" x2="508.9" y2="352.50" stroke="#262626" stroke-width="1.0"/>
<line x1="505.5" y1="351.50" x2="508.9" y2="351.50" stroke="#262626" stroke-width="1.0"/>
<line x1="505.5" y1="350.50" x2="508.9" y2="350.50" stroke="#262626" stroke-width="1.0"/>
<line x1="505.5" y1="348.50" x2="509.0" y2="348.50" stroke="#262626" stroke-width="1.0"/>
<text x="512.10" y="352.87" font-size="10.5" textLength="12.43" lengthAdjust="spacingAndGlyphs">10</text>
<text x="526.10" y="348.97" font-size="7.3" textLength="9.60" lengthAdjust="spacingAndGlyphs">−4</text>
<line x1="505.5" y1="341.50" x2="508.9" y2="341.50" stroke="#262626" stroke-width="1.0"/>
<line x1="505.5" y1="337.50" x2="508.9" y2="337.50" stroke="#262626" stroke-width="1.0"/>
<line x1="505.5" y1="334.50" x2="508.9" y2="334.50" stroke="#262626" stroke-width="1.0"/>
<line x1="505.5" y1="332.50" x2="508.9" y2="332.50" stroke="#262626" stroke-width="1.0"/>
<line x1="505.5" y1="330.50" x2="508.9" y2="330.50" stroke="#262626" stroke-width="1.0"/>
<line x1="505.5" y1="328.50" x2="508.9" y2="328.50" stroke="#262626" stroke-width="1.0"/>
<line x1="505.5" y1="327.50" x2="508.9" y2="327.50" stroke="#262626" stroke-width="1.0"/>
<line x1="505.5" y1="326.50" x2="508.9" y2="326.50" stroke="#262626" stroke-width="1.0"/>
<line x1="505.5" y1="325.50" x2="509.0" y2="325.50" stroke="#262626" stroke-width="1.0"/>
<text x="512.10" y="329.19" font-size="10.5" textLength="12.43" lengthAdjust="spacingAndGlyphs">10</text>
<text x="526.10" y="325.29" font-size="7.3" textLength="9.60" lengthAdjust="spacingAndGlyphs">−3</text>
<line x1="505.5" y1="318.50" x2="508.9" y2="318.50" stroke="#262626" stroke-width="1.0"/>
<line x1="505.5" y1="313.50" x2="508.9" y2="313.50" stroke="#262626" stroke-width="1.0"/>
<line x1="505.5" y1="311.50" x2="508.9" y2="311.50" stroke="#262626" stroke-width="1.0"/>
<line x1="505.5" y1="308.50" x2="508.9" y2="308.50" stroke="#262626" stroke-width="1.0"/>
<line x1="505.5" y1="306.50" x2="508.9" y2="306.50" stroke="#262626" stroke-width="1.0"/>
<line x1="505.5" y1="305.50" x2="508.9" y2="305.50" stroke="#262626" stroke-width="1.0"/>
<line x1="505.5" y1="303.50" x2="508.9" y2="303.50" stroke="#262626" stroke-width="1.0"/>
<line x1="505.5" y1="302.50" x2="508.9" y2="302.50" stroke="#262626" stroke-width="1.0"/>
<line x1="505.5" y1="301.50" x2="509.0" y2="301.50" stroke="#262626" stroke-width="1.0"/>
<text x="512.10" y="305.51" font-size="10.5" textLength="12.43" lengthAdjust="spacingAndGlyphs">10</text>
<text x="526.10" y="301.61" font-size="7.3" textLength="9.60" lengthAdjust="spacingAndGlyphs">−2</text>
<line x1="505.5" y1="294.50" x2="508.9" y2="294.50" stroke="#262626" stroke-width="1.0"/>
<line x1="505.5" y1="290.50" x2="508.9" y2="290.50" stroke="#262626" stroke-width="1.0"/>
<line x1="505.5" y1="287.50" x2="508.9" y2="287.50" stroke="#262626" stroke-width="1.0"/>
<line x1="505.5" y1="285.50" x2="508.9" y2="285.50" stroke="#262626" stroke-width="1.0"/>
<line x1="505.5" y1="283.50" x2="508.9" y2="283.50" stroke="#262626" stroke-width="1.0"/>
<line x1="505.5" y1="281.50" x2="508.9" y2="281.50" stroke="#262626" stroke-width="1.0"/>
<line x1="505.5" y1="280.50" x2="508.9" y2="280.50" stroke="#262626" stroke-width="1.0"/>
<line x1="505.5" y1="279.50" x2="508.9" y2="279.50" stroke="#262626" stroke-width="1.0"/>
<line x1="505.5" y1="277.50" x2="509.0" y2="277.50" stroke="#262626" stroke-width="1.0"/>
<text x="512.10" y="281.83" font-size="10.5" textLength="12.43" lengthAdjust="spacingAndGlyphs">10</text>
<text x="526.10" y="277.93" font-size="7.3" textLength="9.50" lengthAdjust="spacingAndGlyphs">−1</text>
<text x="537" y="321.60" font-size="11" font-style="italic">μ</text>
<g fill="none" stroke-width="1.5" stroke-linejoin="round" stroke-linecap="square">
<polyline points="85.0,465.6 126.0,465.4 129.0,463.0 135.0,457.0 140.6,427.0" stroke="#0080ff"/>
<polyline points="85.0,465.0 125.0,465.0 128.0,462.0 131.0,450.0 134.0,430.0" stroke="#10e0f0"/>
<polyline points="115.0,464.0 127.0,463.6 131.0,444.0 144.6,393.0" stroke="#a4f52a"/>
<polyline points="74.0,463.6 85.0,463.6 109.0,463.0 115.0,458.0 119.0,461.0 125.0,460.0 127.0,458.0 134.0,421.0" stroke="#e8f80a"/>
<polyline points="85.0,463.0 101.0,462.4 129.0,462.0 132.0,438.0 136.0,389.4 140.0,389.4" stroke="#ff4000"/>
<polyline points="85.0,463.0 110.0,462.0 114.6,450.4 119.0,462.0 133.0,442.0 140.6,405.0" stroke="#e00000"/>
</g>
<line x1="54.3" y1="381.3" x2="54.3" y2="467.20000000000005" stroke="#262626" stroke-width="1.25"/>
<line x1="53.699999999999996" y1="466.6" x2="165.7" y2="466.6" stroke="#262626" stroke-width="1.25"/>
<line x1="73.98" y1="466.6" x2="73.98" y2="470.1" stroke="#262626" stroke-width="1"/>
<line x1="89.12" y1="466.6" x2="89.12" y2="470.1" stroke="#262626" stroke-width="1"/>
<line x1="104.26" y1="466.6" x2="104.26" y2="470.1" stroke="#262626" stroke-width="1"/>
<line x1="119.40" y1="466.6" x2="119.40" y2="470.1" stroke="#262626" stroke-width="1"/>
<line x1="134.54" y1="466.6" x2="134.54" y2="470.1" stroke="#262626" stroke-width="1"/>
<line x1="149.68" y1="466.6" x2="149.68" y2="470.1" stroke="#262626" stroke-width="1"/>
<line x1="50.8" y1="466.60" x2="54.3" y2="466.60" stroke="#262626" stroke-width="1"/>
<text transform="translate(47.60 470.60) scale(1.14 1)" font-size="10.3" text-anchor="end" >2</text>
<line x1="50.8" y1="430.13" x2="54.3" y2="430.13" stroke="#262626" stroke-width="1"/>
<text transform="translate(47.60 434.13) scale(1.14 1)" font-size="10.3" text-anchor="end" >20</text>
<line x1="50.8" y1="389.61" x2="54.3" y2="389.61" stroke="#262626" stroke-width="1"/>
<text transform="translate(47.60 393.61) scale(1.14 1)" font-size="10.3" text-anchor="end" >40</text>
<text x="59.23" y="481.90" font-size="10.5" textLength="11.88" lengthAdjust="spacingAndGlyphs">10</text>
<text x="72.83" y="477.50" font-size="7.3" textLength="14.70" lengthAdjust="spacingAndGlyphs">−10</text>
<text x="137.43" y="481.90" font-size="10.5" textLength="11.88" lengthAdjust="spacingAndGlyphs">10</text>
<text x="151.03" y="477.50" font-size="7.3" textLength="9.70" lengthAdjust="spacingAndGlyphs">−5</text>
<text x="91.20" y="496.4" font-size="10.2" textLength="30.0" lengthAdjust="spacingAndGlyphs"><tspan font-style="italic">μ</tspan>(<tspan font-style="italic">σ</tspan>/<tspan font-style="italic">d</tspan>)</text>
<text x="121.70" y="492.50" font-size="7.6">2</text>
<g fill="none" stroke-width="1.5" stroke-linejoin="round" stroke-linecap="square">
<polyline points="210.0,465.6 221.0,465.2 234.0,450.0 247.0,434.6 251.6,435.0" stroke="#0080ff"/>
<polyline points="200.4,458.6 215.0,460.6 226.0,457.6 232.0,442.0" stroke="#10e0f0"/>
<polyline points="211.0,437.0 225.0,447.6 232.0,442.4 236.0,427.0 241.6,417.0" stroke="#a4f52a"/>
<polyline points="199.6,424.4 206.0,442.0 210.4,451.0 215.0,436.4 230.0,437.4 236.0,432.0 241.0,418.0" stroke="#e8f80a"/>
<polyline points="186.6,461.0 217.0,399.0 247.0,389.6" stroke="#ff4000"/>
<polyline points="191.6,389.6 247.0,389.6" stroke="#e00000"/>
</g>
<line x1="165.7" y1="381.3" x2="165.7" y2="467.20000000000005" stroke="#262626" stroke-width="1.25"/>
<line x1="165.1" y1="466.6" x2="277.1" y2="466.6" stroke="#262626" stroke-width="1.25"/>
<line x1="185.38" y1="466.6" x2="185.38" y2="470.1" stroke="#262626" stroke-width="1"/>
<line x1="200.52" y1="466.6" x2="200.52" y2="470.1" stroke="#262626" stroke-width="1"/>
<line x1="215.66" y1="466.6" x2="215.66" y2="470.1" stroke="#262626" stroke-width="1"/>
<line x1="230.80" y1="466.6" x2="230.80" y2="470.1" stroke="#262626" stroke-width="1"/>
<line x1="245.94" y1="466.6" x2="245.94" y2="470.1" stroke="#262626" stroke-width="1"/>
<line x1="261.08" y1="466.6" x2="261.08" y2="470.1" stroke="#262626" stroke-width="1"/>
<line x1="162.2" y1="466.60" x2="165.7" y2="466.60" stroke="#262626" stroke-width="1"/>
<line x1="162.2" y1="430.13" x2="165.7" y2="430.13" stroke="#262626" stroke-width="1"/>
<line x1="162.2" y1="389.61" x2="165.7" y2="389.61" stroke="#262626" stroke-width="1"/>
<text x="170.63" y="481.90" font-size="10.5" textLength="11.88" lengthAdjust="spacingAndGlyphs">10</text>
<text x="184.23" y="477.50" font-size="7.3" textLength="14.70" lengthAdjust="spacingAndGlyphs">−10</text>
<text x="248.83" y="481.90" font-size="10.5" textLength="11.88" lengthAdjust="spacingAndGlyphs">10</text>
<text x="262.43" y="477.50" font-size="7.3" textLength="9.70" lengthAdjust="spacingAndGlyphs">−5</text>
<text x="202.60" y="496.4" font-size="10.2" textLength="30.0" lengthAdjust="spacingAndGlyphs"><tspan font-style="italic">μ</tspan>(<tspan font-style="italic">σ</tspan>/<tspan font-style="italic">d</tspan>)</text>
<text x="233.10" y="492.50" font-size="7.6">2</text>
<g fill="none" stroke-width="1.5" stroke-linejoin="round" stroke-linecap="square">
<polyline points="297.0,465.6 311.0,454.0 318.0,465.6 325.0,462.0 341.0,449.0 348.0,460.4 357.0,454.6" stroke="#0000e0"/>
<polyline points="309.0,460.0 327.0,464.0 337.0,451.6 351.0,455.0" stroke="#0080ff"/>
<polyline points="307.0,459.6 326.0,458.0 337.0,444.4 341.0,446.4 356.0,440.4" stroke="#10e0f0"/>
<polyline points="322.6,442.0 336.6,437.6 343.0,413.6 348.0,436.4 352.6,426.0" stroke="#a4f52a"/>
<polyline points="296.6,436.4 312.0,435.6 318.0,436.4 327.0,429.6 341.0,406.4 352.0,413.0 357.0,425.0" stroke="#e8f80a"/>
<polyline points="298.0,397.0 307.0,410.4 328.0,408.0 332.0,396.4 337.4,407.6" stroke="#ff4000"/>
<polyline points="281.4,415.6 312.0,389.6 333.0,389.6 337.0,397.6 342.0,389.6" stroke="#e00000"/>
</g>
<line x1="277.0" y1="381.3" x2="277.0" y2="467.20000000000005" stroke="#262626" stroke-width="1.25"/>
<line x1="276.4" y1="466.6" x2="388.4" y2="466.6" stroke="#262626" stroke-width="1.25"/>
<line x1="296.68" y1="466.6" x2="296.68" y2="470.1" stroke="#262626" stroke-width="1"/>
<line x1="311.82" y1="466.6" x2="311.82" y2="470.1" stroke="#262626" stroke-width="1"/>
<line x1="326.96" y1="466.6" x2="326.96" y2="470.1" stroke="#262626" stroke-width="1"/>
<line x1="342.10" y1="466.6" x2="342.10" y2="470.1" stroke="#262626" stroke-width="1"/>
<line x1="357.24" y1="466.6" x2="357.24" y2="470.1" stroke="#262626" stroke-width="1"/>
<line x1="372.38" y1="466.6" x2="372.38" y2="470.1" stroke="#262626" stroke-width="1"/>
<line x1="273.5" y1="466.60" x2="277.0" y2="466.60" stroke="#262626" stroke-width="1"/>
<line x1="273.5" y1="430.13" x2="277.0" y2="430.13" stroke="#262626" stroke-width="1"/>
<line x1="273.5" y1="389.61" x2="277.0" y2="389.61" stroke="#262626" stroke-width="1"/>
<text x="281.93" y="481.90" font-size="10.5" textLength="11.88" lengthAdjust="spacingAndGlyphs">10</text>
<text x="295.53" y="477.50" font-size="7.3" textLength="14.70" lengthAdjust="spacingAndGlyphs">−10</text>
<text x="360.13" y="481.90" font-size="10.5" textLength="11.88" lengthAdjust="spacingAndGlyphs">10</text>
<text x="373.73" y="477.50" font-size="7.3" textLength="9.70" lengthAdjust="spacingAndGlyphs">−5</text>
<text x="313.90" y="496.4" font-size="10.2" textLength="30.0" lengthAdjust="spacingAndGlyphs"><tspan font-style="italic">μ</tspan>(<tspan font-style="italic">σ</tspan>/<tspan font-style="italic">d</tspan>)</text>
<text x="344.40" y="492.50" font-size="7.6">2</text>
<g fill="none" stroke-width="1.5" stroke-linejoin="round" stroke-linecap="square">
<polyline points="432.4,462.4 436.0,465.0 450.0,444.4 465.0,454.4" stroke="#0000e0"/>
<polyline points="431.6,459.6 440.0,458.0 459.0,451.6" stroke="#0080ff"/>
<polyline points="436.0,454.4 446.0,457.0 450.0,429.6 464.4,441.6" stroke="#10e0f0"/>
<polyline points="432.0,418.4 446.0,440.4 474.4,454.4" stroke="#a4f52a"/>
<polyline points="421.0,440.4 427.4,408.0 431.6,435.6 436.0,419.6 450.0,420.4 460.4,431.6" stroke="#e8f80a"/>
<polyline points="408.6,461.6 417.6,389.6" stroke="#ff4000"/>
</g>
<line x1="388.5" y1="381.3" x2="388.5" y2="467.20000000000005" stroke="#262626" stroke-width="1.25"/>
<line x1="387.9" y1="466.6" x2="494.7" y2="466.6" stroke="#262626" stroke-width="1.25"/>
<line x1="407.26" y1="466.6" x2="407.26" y2="470.1" stroke="#262626" stroke-width="1"/>
<line x1="421.70" y1="466.6" x2="421.70" y2="470.1" stroke="#262626" stroke-width="1"/>
<line x1="436.13" y1="466.6" x2="436.13" y2="470.1" stroke="#262626" stroke-width="1"/>
<line x1="450.56" y1="466.6" x2="450.56" y2="470.1" stroke="#262626" stroke-width="1"/>
<line x1="465.00" y1="466.6" x2="465.00" y2="470.1" stroke="#262626" stroke-width="1"/>
<line x1="479.43" y1="466.6" x2="479.43" y2="470.1" stroke="#262626" stroke-width="1"/>
<line x1="385.0" y1="466.60" x2="388.5" y2="466.60" stroke="#262626" stroke-width="1"/>
<line x1="385.0" y1="430.13" x2="388.5" y2="430.13" stroke="#262626" stroke-width="1"/>
<line x1="385.0" y1="389.61" x2="388.5" y2="389.61" stroke="#262626" stroke-width="1"/>
<text x="392.51" y="481.90" font-size="10.5" textLength="11.88" lengthAdjust="spacingAndGlyphs">10</text>
<text x="406.11" y="477.50" font-size="7.3" textLength="14.70" lengthAdjust="spacingAndGlyphs">−10</text>
<text x="467.18" y="481.90" font-size="10.5" textLength="11.88" lengthAdjust="spacingAndGlyphs">10</text>
<text x="480.78" y="477.50" font-size="7.3" textLength="9.70" lengthAdjust="spacingAndGlyphs">−5</text>
<text x="423.68" y="496.4" font-size="10.2" textLength="30.0" lengthAdjust="spacingAndGlyphs"><tspan font-style="italic">μ</tspan>(<tspan font-style="italic">σ</tspan>/<tspan font-style="italic">d</tspan>)</text>
<text x="454.18" y="492.50" font-size="7.6">2</text>
<rect x="500.7" y="381.3" width="4.8" height="85.3" fill="url(#jet)" stroke="#262626" stroke-width="0.7"/>
<line x1="505.5" y1="464.50" x2="508.9" y2="464.50" stroke="#262626" stroke-width="1.0"/>
<line x1="505.5" y1="463.50" x2="508.9" y2="463.50" stroke="#262626" stroke-width="1.0"/>
<line x1="505.5" y1="461.50" x2="508.9" y2="461.50" stroke="#262626" stroke-width="1.0"/>
<line x1="505.5" y1="460.50" x2="508.9" y2="460.50" stroke="#262626" stroke-width="1.0"/>
<line x1="505.5" y1="459.50" x2="509.0" y2="459.50" stroke="#262626" stroke-width="1.0"/>
<text x="512.10" y="463.37" font-size="10.5" textLength="12.43" lengthAdjust="spacingAndGlyphs">10</text>
<text x="526.10" y="459.47" font-size="7.3" textLength="9.60" lengthAdjust="spacingAndGlyphs">−4</text>
<line x1="505.5" y1="452.50" x2="508.9" y2="452.50" stroke="#262626" stroke-width="1.0"/>
<line x1="505.5" y1="448.50" x2="508.9" y2="448.50" stroke="#262626" stroke-width="1.0"/>
<line x1="505.5" y1="445.50" x2="508.9" y2="445.50" stroke="#262626" stroke-width="1.0"/>
<line x1="505.5" y1="442.50" x2="508.9" y2="442.50" stroke="#262626" stroke-width="1.0"/>
<line x1="505.5" y1="441.50" x2="508.9" y2="441.50" stroke="#262626" stroke-width="1.0"/>
<line x1="505.5" y1="439.50" x2="508.9" y2="439.50" stroke="#262626" stroke-width="1.0"/>
<line x1="505.5" y1="438.50" x2="508.9" y2="438.50" stroke="#262626" stroke-width="1.0"/>
<line x1="505.5" y1="436.50" x2="508.9" y2="436.50" stroke="#262626" stroke-width="1.0"/>
<line x1="505.5" y1="435.50" x2="509.0" y2="435.50" stroke="#262626" stroke-width="1.0"/>
<text x="512.10" y="439.69" font-size="10.5" textLength="12.43" lengthAdjust="spacingAndGlyphs">10</text>
<text x="526.10" y="435.79" font-size="7.3" textLength="9.60" lengthAdjust="spacingAndGlyphs">−3</text>
<line x1="505.5" y1="428.50" x2="508.9" y2="428.50" stroke="#262626" stroke-width="1.0"/>
<line x1="505.5" y1="424.50" x2="508.9" y2="424.50" stroke="#262626" stroke-width="1.0"/>
<line x1="505.5" y1="421.50" x2="508.9" y2="421.50" stroke="#262626" stroke-width="1.0"/>
<line x1="505.5" y1="419.50" x2="508.9" y2="419.50" stroke="#262626" stroke-width="1.0"/>
<line x1="505.5" y1="417.50" x2="508.9" y2="417.50" stroke="#262626" stroke-width="1.0"/>
<line x1="505.5" y1="415.50" x2="508.9" y2="415.50" stroke="#262626" stroke-width="1.0"/>
<line x1="505.5" y1="414.50" x2="508.9" y2="414.50" stroke="#262626" stroke-width="1.0"/>
<line x1="505.5" y1="413.50" x2="508.9" y2="413.50" stroke="#262626" stroke-width="1.0"/>
<line x1="505.5" y1="412.50" x2="509.0" y2="412.50" stroke="#262626" stroke-width="1.0"/>
<text x="512.10" y="416.01" font-size="10.5" textLength="12.43" lengthAdjust="spacingAndGlyphs">10</text>
<text x="526.10" y="412.11" font-size="7.3" textLength="9.60" lengthAdjust="spacingAndGlyphs">−2</text>
<line x1="505.5" y1="404.50" x2="508.9" y2="404.50" stroke="#262626" stroke-width="1.0"/>
<line x1="505.5" y1="400.50" x2="508.9" y2="400.50" stroke="#262626" stroke-width="1.0"/>
<line x1="505.5" y1="397.50" x2="508.9" y2="397.50" stroke="#262626" stroke-width="1.0"/>
<line x1="505.5" y1="395.50" x2="508.9" y2="395.50" stroke="#262626" stroke-width="1.0"/>
<line x1="505.5" y1="393.50" x2="508.9" y2="393.50" stroke="#262626" stroke-width="1.0"/>
<line x1="505.5" y1="392.50" x2="508.9" y2="392.50" stroke="#262626" stroke-width="1.0"/>
<line x1="505.5" y1="390.50" x2="508.9" y2="390.50" stroke="#262626" stroke-width="1.0"/>
<line x1="505.5" y1="389.50" x2="508.9" y2="389.50" stroke="#262626" stroke-width="1.0"/>
<line x1="505.5" y1="388.50" x2="509.0" y2="388.50" stroke="#262626" stroke-width="1.0"/>
<text x="512.10" y="392.33" font-size="10.5" textLength="12.43" lengthAdjust="spacingAndGlyphs">10</text>
<text x="526.10" y="388.43" font-size="7.3" textLength="9.50" lengthAdjust="spacingAndGlyphs">−1</text>
<text x="537" y="432.10" font-size="11" font-style="italic">μ</text>
</svg></body></html>
